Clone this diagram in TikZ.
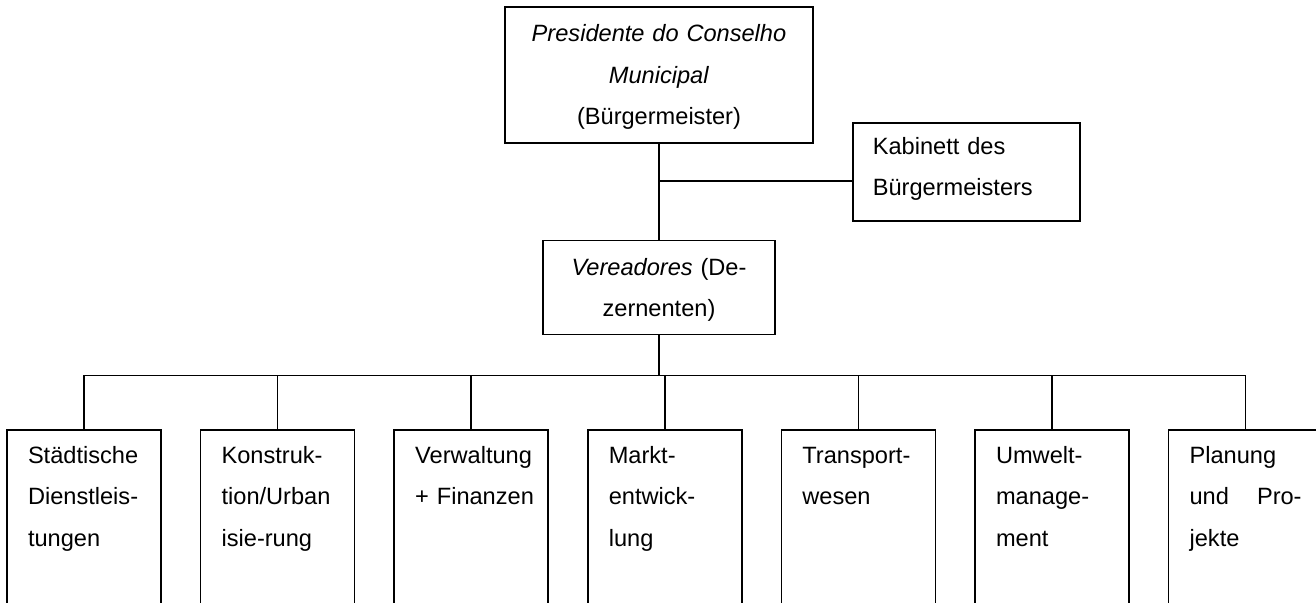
\documentclass[tikz,border=0pt]{standalone}
\usepackage{fontspec}
\setmainfont{Liberation Sans}
\usetikzlibrary{
  positioning,
}
\tikzstyle{office} = [
  rectangle,
  draw,
  align=center,
  text height=8pt,
  font=\fontsize{11.8}{20.6}\selectfont,
]
\tikzstyle{dept} = [
  rectangle,
  draw,
  anchor=north,
  text width=56pt,
  align=left,
  inner xsep=10.5pt,
  inner ysep=8.8pt,
  text height=8pt,
  text depth=100pt,
  font=\fontsize{11.8}{20.75}\selectfont,
]

\begin{document}
\begin{tikzpicture}[x=0.5pt,y=-0.5pt,line width=0.8pt]
      \useasboundingbox (0,0) rectangle (1316,603);
      \clip (0,0) rectangle (1316,603);

      \node[office,text width=140pt,minimum width=154pt,minimum height=68pt,text depth=41pt] (pres) at (659,75) {\textit{Presidente do Conselho}\\\textit{Municipal}\\(Bürgermeister)};
      \node[office,align=left,text width=93.5pt,inner xsep=10pt,inner ysep=8pt,text depth=25pt,anchor=north west] (kab) at (852,122) {Kabinett des\\Bürgermeisters};
      \node[office,text width=100pt,minimum width=116pt,minimum height=47pt,text depth=20.5pt] (ver) [below=48pt of pres] {\textit{Vereadores} (De-\\zernenten)};

      \node[dept] (sd) at (84,429) {Städtische\\Dienstleis-\\tungen};
      \node[dept] (kon) [right=19pt of sd]  {Konstruk-\\tion/Urban\\isie-rung};
      \node[dept] (vf)  [right=19pt of kon] {Verwaltung\\\mbox{+ Finanzen}};
      \node[dept] (mk)  [right=19pt of vf]  {Markt-\\entwick-\\lung};
      \node[dept] (tw)  [right=19pt of mk]  {Transport-\\wesen};
      \node[dept] (um)  [right=19pt of tw]  {Umwelt-\\manage-\\ment};
      \node[dept] (pp)  [right=19pt of um]  {Planung\\und \hfill Pro-\\jekte};

      \draw (pres) -- (ver);
      \draw ([yshift=-4.75pt]kab.west) -- ([yshift=-4.75pt]kab.west -| pres.south);

      \draw (ver.south) -- ++(0,40) coordinate (bus);
      \draw (sd.north) |- (bus) -| (pp.north);
      \draw (kon.north) -- (kon.north |- bus);
      \draw (vf.north) -- (vf.north |- bus);
      \draw (mk.north) -- (mk.north |- bus);
      \draw (tw.north) -- (tw.north |- bus);
      \draw (um.north) -- (um.north |- bus);

    \end{tikzpicture}
\end{document}
